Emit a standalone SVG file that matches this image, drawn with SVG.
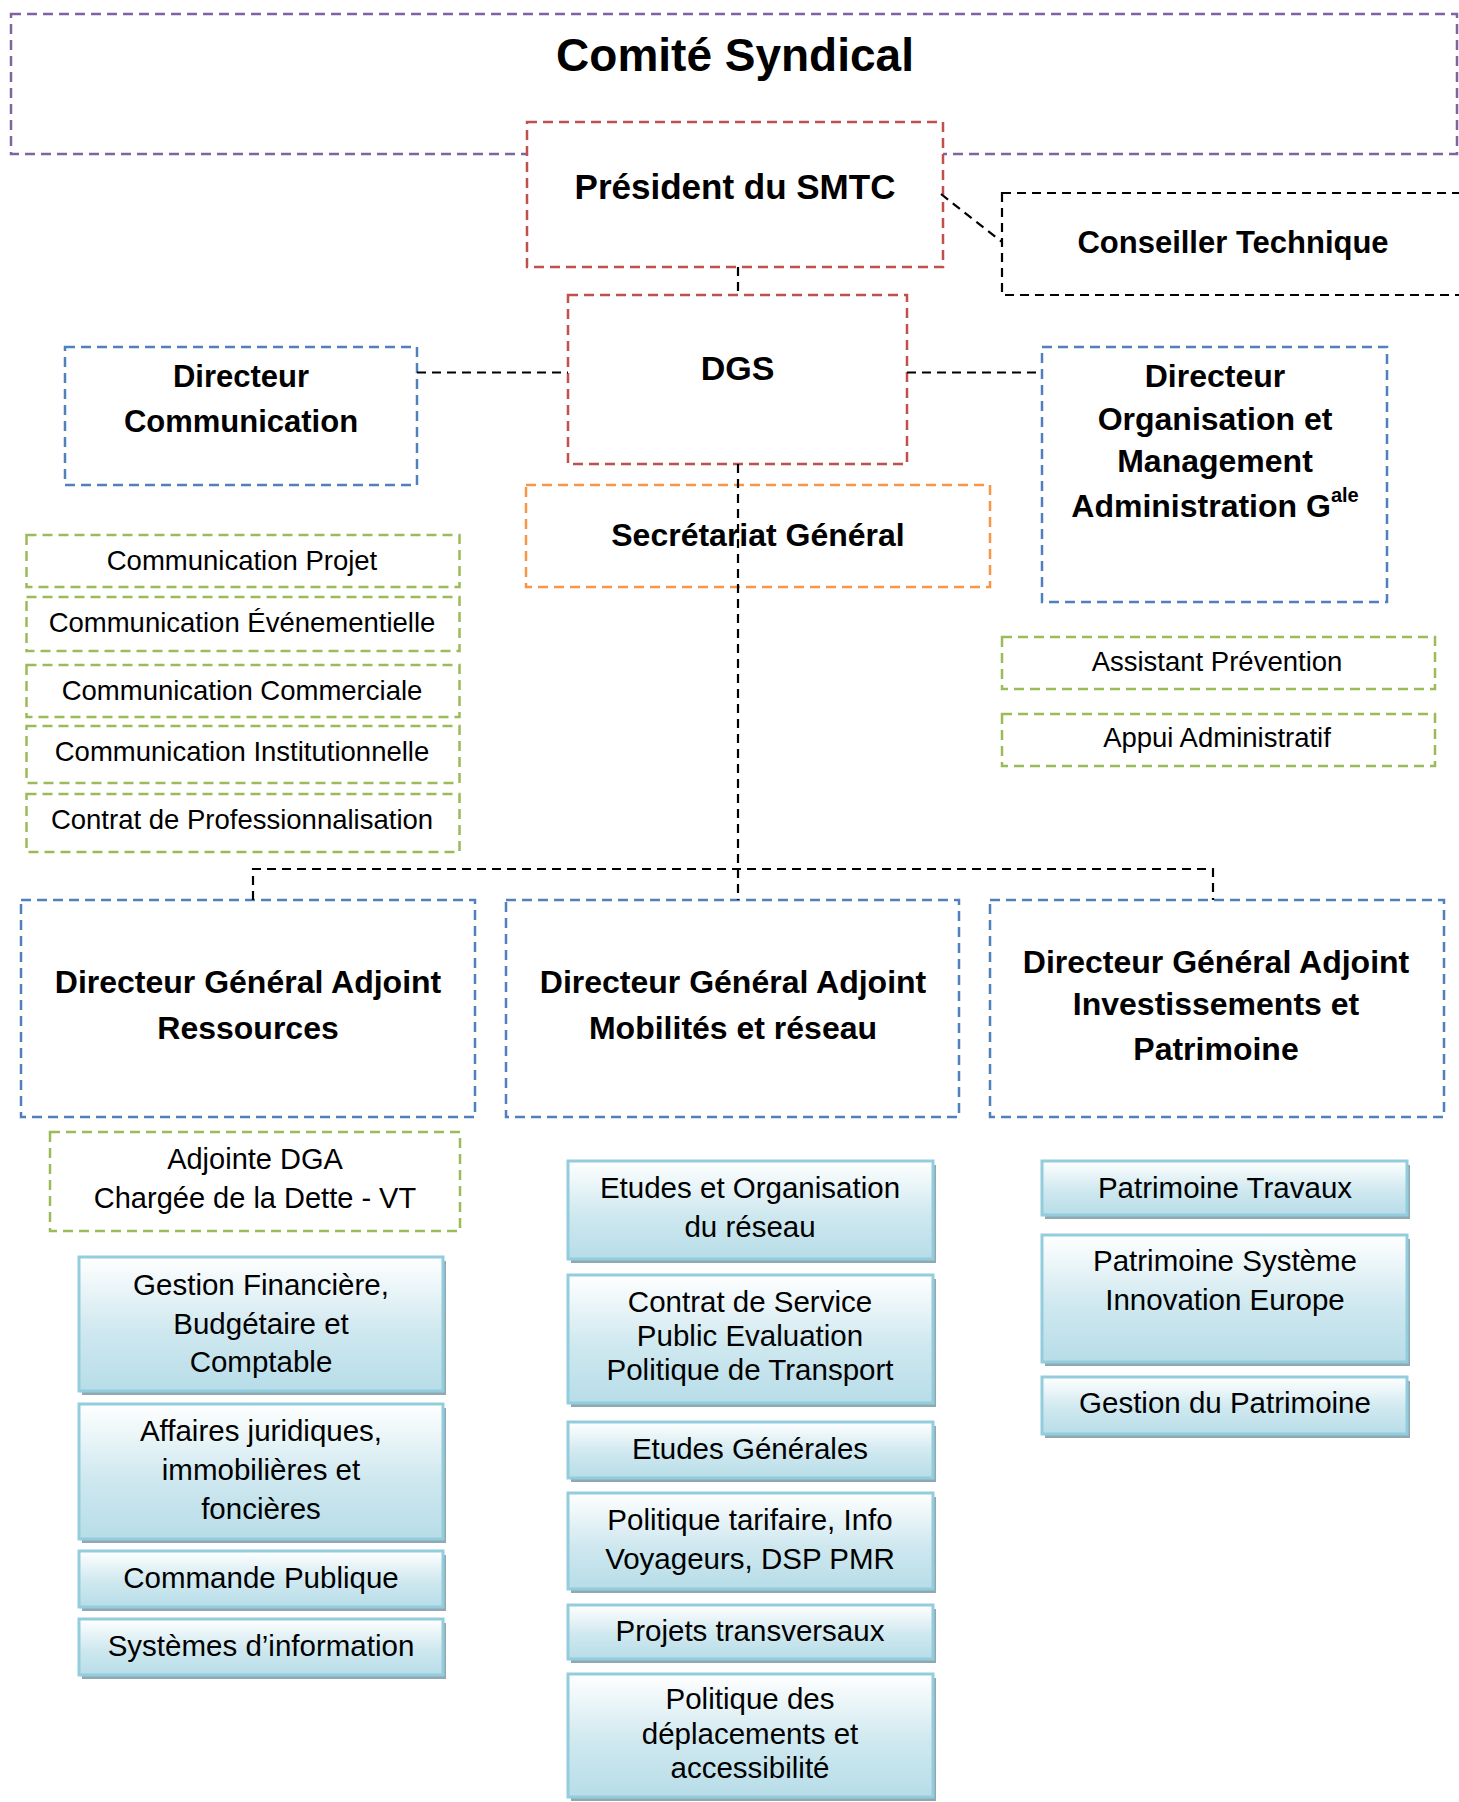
<svg xmlns="http://www.w3.org/2000/svg" width="1459" height="1802" viewBox="0 0 1459 1802">
<defs>
<linearGradient id="gb" x1="0" y1="0" x2="0" y2="1">
<stop offset="0" stop-color="#FFFFFF"/>
<stop offset="0.55" stop-color="#CFE8EF"/>
<stop offset="1" stop-color="#B7DDE8"/>
</linearGradient>
<style>
.d{fill:#FFFFFF;stroke-width:2.5;stroke-dasharray:10 6}
.pu{stroke:#8064A2}.rd{stroke:#C0504D}.bl{stroke:#4F81BD}.gr{stroke:#9BBB59}.or{stroke:#F79646}.bk{stroke:#000000;stroke-width:2.2;stroke-dasharray:9 6}
.sh{fill:#8FA8B1}
.gx{fill:url(#gb);stroke:#93CDDD;stroke-width:3}
.conn{fill:none;stroke:#000000;stroke-width:2.2;stroke-dasharray:9 6}
text{font-family:"Liberation Sans",Arial,sans-serif;fill:#000000;text-anchor:middle}
.b{font-weight:bold}
.r{font-size:27.5px}
.s{font-size:29.5px}
</style>
</defs>

<g id="comite">
<rect class="d pu" x="11" y="14" width="1446" height="140"/>
<text class="b" x="735" y="71" font-size="46">Comité Syndical</text>
</g>

<g id="president">
<rect class="d rd" x="527" y="122" width="416" height="145"/>
<text class="b" x="735" y="199" font-size="35">Président du SMTC</text>
</g>

<g id="conseiller">
<rect class="d bk" x="1002" y="193" width="480" height="102" fill="#FFFFFF"/>
<text class="b" x="1233" y="253" font-size="31">Conseiller Technique</text>
</g>

<g id="dgs">
<rect class="d rd" x="568" y="295" width="339" height="169"/>
<text class="b" x="737.5" y="380" font-size="34">DGS</text>
</g>

<g id="dir-comm">
<rect class="d bl" x="65" y="347" width="352" height="138"/>
<text class="b" x="241" y="387" font-size="31">Directeur</text>
<text class="b" x="241" y="432" font-size="31">Communication</text>
</g>

<g id="dir-org">
<rect class="d bl" x="1042" y="347" width="345" height="255"/>
<text class="b" x="1215" y="387" font-size="32">Directeur</text>
<text class="b" x="1215" y="430" font-size="32">Organisation et</text>
<text class="b" x="1215" y="472" font-size="32">Management</text>
<text class="b" x="1215" y="517" font-size="32">Administration G<tspan font-size="20" dy="-15">ale</tspan></text>
</g>

<g id="secretariat">
<rect class="d or" x="526" y="485" width="464" height="102"/>
<text class="b" x="758" y="546" font-size="32">Secrétariat Général</text>
</g>

<g id="comm-projet">
<rect class="d gr" x="26.5" y="535" width="433" height="52"/>
<text class="r" x="242" y="570">Communication Projet</text>
</g>
<g id="comm-evenementielle">
<rect class="d gr" x="26.5" y="597" width="433" height="54"/>
<text class="r" x="242" y="632">Communication Événementielle</text>
</g>
<g id="comm-commerciale">
<rect class="d gr" x="26.5" y="665" width="433" height="52"/>
<text class="r" x="242" y="700">Communication Commerciale</text>
</g>
<g id="comm-institutionnelle">
<rect class="d gr" x="26.5" y="726" width="433" height="57"/>
<text class="r" x="242" y="761">Communication Institutionnelle</text>
</g>
<g id="contrat-pro">
<rect class="d gr" x="26.5" y="794" width="433" height="58"/>
<text class="r" x="242" y="829">Contrat de Professionnalisation</text>
</g>

<g id="assistant-prevention">
<rect class="d gr" x="1002" y="637" width="433" height="52"/>
<text class="r" x="1217" y="671">Assistant Prévention</text>
</g>
<g id="appui-administratif">
<rect class="d gr" x="1002" y="714" width="433" height="52"/>
<text class="r" x="1217" y="747">Appui Administratif</text>
</g>

<g id="dga-ressources">
<rect class="d bl" x="21" y="900" width="454" height="217"/>
<text class="b" x="248" y="993" font-size="32">Directeur Général Adjoint</text>
<text class="b" x="248" y="1039" font-size="32">Ressources</text>
</g>
<g id="dga-mobilites">
<rect class="d bl" x="506" y="900" width="453" height="217"/>
<text class="b" x="733" y="993" font-size="32">Directeur Général Adjoint</text>
<text class="b" x="733" y="1039" font-size="32">Mobilités et réseau</text>
</g>
<g id="dga-investissements">
<rect class="d bl" x="990" y="900" width="454" height="217"/>
<text class="b" x="1216" y="973" font-size="32">Directeur Général Adjoint</text>
<text class="b" x="1216" y="1015" font-size="32">Investissements et</text>
<text class="b" x="1216" y="1060" font-size="32">Patrimoine</text>
</g>

<g id="adjointe-dga">
<rect class="d gr" x="50" y="1132" width="410" height="99"/>
<text x="255" y="1169" font-size="29">Adjointe DGA</text>
<text x="255" y="1208" font-size="29">Chargée de la Dette - VT</text>
</g>

<g id="gestion-financiere">
<rect class="sh" x="82" y="1261" width="364" height="134"/>
<rect class="gx" x="79" y="1257" width="364" height="134"/>
<text class="s" x="261" y="1295">Gestion Financière,</text>
<text class="s" x="261" y="1334">Budgétaire et</text>
<text class="s" x="261" y="1372">Comptable</text>
</g>
<g id="affaires-juridiques">
<rect class="sh" x="82" y="1408" width="364" height="135"/>
<rect class="gx" x="79" y="1404" width="364" height="135"/>
<text class="s" x="261" y="1441">Affaires juridiques,</text>
<text class="s" x="261" y="1480">immobilières et</text>
<text class="s" x="261" y="1519">foncières</text>
</g>
<g id="commande-publique">
<rect class="sh" x="82" y="1555" width="364" height="56"/>
<rect class="gx" x="79" y="1551" width="364" height="56"/>
<text class="s" x="261" y="1588">Commande Publique</text>
</g>
<g id="systemes-information">
<rect class="sh" x="82" y="1623" width="364" height="56"/>
<rect class="gx" x="79" y="1619" width="364" height="56"/>
<text class="s" x="261" y="1656">Systèmes d’information</text>
</g>

<g id="etudes-organisation">
<rect class="sh" x="571" y="1165" width="365" height="98"/>
<rect class="gx" x="568" y="1161" width="365" height="98"/>
<text class="s" x="750" y="1198">Etudes et Organisation</text>
<text class="s" x="750" y="1237">du réseau</text>
</g>
<g id="contrat-service">
<rect class="sh" x="571" y="1279" width="365" height="128"/>
<rect class="gx" x="568" y="1275" width="365" height="128"/>
<text class="s" x="750" y="1312">Contrat de Service</text>
<text class="s" x="750" y="1346">Public Evaluation</text>
<text class="s" x="750" y="1380">Politique de Transport</text>
</g>
<g id="etudes-generales">
<rect class="sh" x="571" y="1426" width="365" height="56"/>
<rect class="gx" x="568" y="1422" width="365" height="56"/>
<text class="s" x="750" y="1459">Etudes Générales</text>
</g>
<g id="politique-tarifaire">
<rect class="sh" x="571" y="1497" width="365" height="96"/>
<rect class="gx" x="568" y="1493" width="365" height="96"/>
<text class="s" x="750" y="1530">Politique tarifaire, Info</text>
<text class="s" x="750" y="1569">Voyageurs, DSP PMR</text>
</g>
<g id="projets-transversaux">
<rect class="sh" x="571" y="1609" width="365" height="54"/>
<rect class="gx" x="568" y="1605" width="365" height="54"/>
<text class="s" x="750" y="1641">Projets transversaux</text>
</g>
<g id="politique-deplacements">
<rect class="sh" x="571" y="1678" width="365" height="123"/>
<rect class="gx" x="568" y="1674" width="365" height="123"/>
<text class="s" x="750" y="1709">Politique des</text>
<text class="s" x="750" y="1744">déplacements et</text>
<text class="s" x="750" y="1778">accessibilité</text>
</g>

<g id="patrimoine-travaux">
<rect class="sh" x="1045" y="1165" width="365" height="54"/>
<rect class="gx" x="1042" y="1161" width="365" height="54"/>
<text class="s" x="1225" y="1198">Patrimoine Travaux</text>
</g>
<g id="patrimoine-systeme">
<rect class="sh" x="1045" y="1239" width="365" height="127"/>
<rect class="gx" x="1042" y="1235" width="365" height="127"/>
<text class="s" x="1225" y="1271">Patrimoine Système</text>
<text class="s" x="1225" y="1310">Innovation Europe</text>
</g>
<g id="gestion-patrimoine">
<rect class="sh" x="1045" y="1381" width="365" height="57"/>
<rect class="gx" x="1042" y="1377" width="365" height="57"/>
<text class="s" x="1225" y="1413">Gestion du Patrimoine</text>
</g>

<g id="connectors">
<line class="conn" x1="941" y1="194" x2="1002" y2="242"/>
<line class="conn" x1="738" y1="267" x2="738" y2="295"/>
<line class="conn" x1="417" y1="372.5" x2="568" y2="372.5"/>
<line class="conn" x1="907" y1="372.5" x2="1042" y2="372.5"/>
<line class="conn" x1="738" y1="464" x2="738" y2="900"/>
<polyline class="conn" points="253,900 253,869 1213,869 1213,900"/>
</g>
</svg>
